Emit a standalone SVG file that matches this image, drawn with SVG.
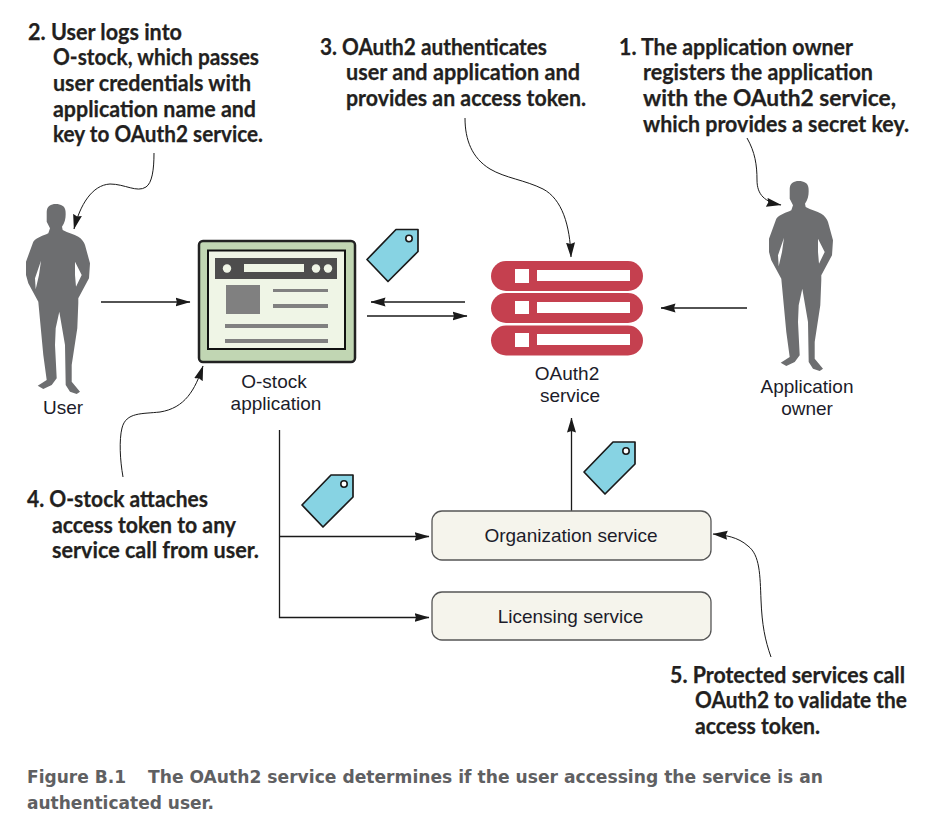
<svg xmlns="http://www.w3.org/2000/svg" xmlns:xlink="http://www.w3.org/1999/xlink" width="944" height="826" viewBox="0 0 944 826">
<style>
.note{font:700 22px Lato,"Noto Sans",sans-serif;fill:#231f20;stroke:#231f20;stroke-width:.25}
.lab{font:19px "Liberation Sans",Arial,sans-serif;fill:#1c1c2a;text-anchor:middle}
.cap{font:700 18.500px "DejaVu Sans","Liberation Sans",sans-serif;fill:#5f6062}
.con{fill:none;stroke:#1a1a1a;stroke-width:1.3}
.cur{fill:none;stroke:#1a1a1a;stroke-width:1}
.tag{fill:#87d3e3;stroke:#1a1a1a;stroke-width:1.7;stroke-linejoin:round}
.hole{fill:#fff;stroke:#1a1a1a;stroke-width:1.6}
.svc{fill:#f5f4ec;stroke:#555;stroke-width:1.3}
.srv{fill:#c5404f}
.wht{fill:#fff}
.g{fill:#808080}
.lt{fill:#eff5e6}
</style>
<defs>
<marker id="ah" viewBox="0 0 15 10" refX="14.500" refY="5" markerWidth="15" markerHeight="10" markerUnits="userSpaceOnUse" orient="auto"><path d="M0,0.500L15,5L0,9.500L1.500,5Z" fill="#1a1a1a"/></marker>
<path id="person" fill="#6d6e70" fill-rule="evenodd" d="M55.700,204C61,204 65,206 65.500,211C66,216 65.500,222 62,226.700L62.700,230C68,233 74,234 78.300,236.700C82,239 84,242 85,245L90,263.300L89,278.300L78.300,298.300V303.300L77.300,328.300L71.700,365V381.700L80,391.700L76.700,394L70,391.700L65.700,385L65,345L59.300,311.700L55.700,328.300L55,345L56.700,378.300L51.700,385L43.300,389L37.700,385.700L46.700,380L43.300,355L38.300,301.700L28.300,283.300L26,275V261.700L33.300,241.700C37,237 43,236 48.300,233.300L50,228.300L46.700,221.700V211.700C47,206 51,204 55.700,204ZM41,260.700L35,278.300L35.700,289.300L39,275ZM75,261.700L81.700,275L76,286.700L75,275Z"/>
<g id="tg"><path class="tag" d="M0,0L29,-30L51,-30L51,-8L21,22Z"/><circle class="hole" cx="42" cy="-21" r="3.200"/></g>
</defs>
<g id="connectors">
<path class="con" d="M101,302H190" marker-end="url(#ah)"/>
<path class="con" d="M465,302H371" marker-end="url(#ah)"/>
<path class="con" d="M367,316H467" marker-end="url(#ah)"/>
<path class="con" d="M747,308H661" marker-end="url(#ah)"/>
<path class="con" d="M571.500,511V418" marker-end="url(#ah)"/>
<path class="con" d="M279.500,430V617.500H429" marker-end="url(#ah)"/>
<path class="con" d="M279.500,536.500H429" marker-end="url(#ah)"/>
<path class="cur" d="M154,153C154,170 152,183 146,187C137,193 125,184 110,184C92,185 80,205 74,229" marker-end="url(#ah)"/>
<path class="cur" d="M465,118C465,140 472,158 490,169C505,178 525,180 543,189C562,199 570,225 571,257" marker-end="url(#ah)"/>
<path class="cur" d="M747,138C755,152 757,165 757,180C757,195 765,202 781,205" marker-end="url(#ah)"/>
<path class="cur" d="M123,477C120,460 119,440 122,428C126,412 142,414 160,412C185,408 195,390 203,366" marker-end="url(#ah)"/>
<path class="cur" d="M771,657C765,640 762,625 761,600C760,575 760,555 748,546C738,537 725,535 713,534" marker-end="url(#ah)"/>
</g>
<g id="user"><use href="#person"/><text class="lab" x="63" y="414">User</text></g>
<g id="owner"><use href="#person" transform="translate(743,-23)"/><text class="lab" x="807" y="393">Application</text><text class="lab" x="807" y="415">owner</text></g>
<g id="ostock">
<rect x="199" y="241" width="156" height="121" rx="4" fill="#c1d6b3" stroke="#222" stroke-width="2.500"/>
<rect x="208" y="250.500" width="137" height="98.500" fill="#eff5e6" stroke="#111" stroke-width="2"/>
<rect x="215" y="258" width="122" height="21" fill="#4d4d4d"/>
<circle class="lt" cx="227" cy="268.500" r="4.200"/><circle class="lt" cx="316" cy="268.500" r="4.200"/><circle class="lt" cx="328" cy="268.500" r="4.200"/>
<rect class="lt" x="244" y="264" width="60" height="8"/>
<rect class="g" x="226" y="285" width="34" height="29"/>
<rect class="g" x="273" y="289" width="55" height="3"/>
<rect class="g" x="273" y="304" width="55" height="4"/>
<rect class="g" x="225" y="324" width="103" height="4"/>
<rect class="g" x="225" y="339" width="103" height="4"/>
<text class="lab" x="274" y="388">O-stock</text><text class="lab" x="276" y="410">application</text>
</g>
<g id="oauth2">
<rect class="srv" x="491" y="261" width="152" height="30" rx="15"/>
<rect class="srv" x="491" y="293" width="152" height="30" rx="15"/>
<rect class="srv" x="491" y="325.500" width="152" height="30" rx="15"/>
<rect class="wht" x="515" y="269" width="14" height="14"/><rect class="wht" x="537" y="270" width="93" height="11"/>
<rect class="wht" x="515" y="301" width="14" height="13"/><rect class="wht" x="537" y="302" width="93" height="11"/>
<rect class="wht" x="515" y="333" width="14" height="14"/><rect class="wht" x="537" y="334" width="93" height="11"/>
<text class="lab" x="567" y="380">OAuth2</text><text class="lab" x="570" y="402">service</text>
</g>
<g id="token1"><use href="#tg" x="367" y="259.500"/></g>
<g id="token2"><use href="#tg" x="302" y="505"/></g>
<g id="token3"><use href="#tg" x="584" y="472"/></g>
<g id="organization"><rect class="svc" x="432" y="511" width="279" height="49" rx="10"/><text class="lab" x="571" y="542">Organization service</text></g>
<g id="licensing"><rect class="svc" x="432" y="592" width="279" height="48" rx="10"/><text class="lab" x="570.500" y="623">Licensing service</text></g>
<g id="note2">
<text class="note" x="28" y="40" textLength="154" lengthAdjust="spacingAndGlyphs">2. User logs into</text>
<text class="note" x="53" y="65" textLength="206" lengthAdjust="spacingAndGlyphs">O-stock, which passes</text>
<text class="note" x="53" y="91" textLength="198" lengthAdjust="spacingAndGlyphs">user credentials with</text>
<text class="note" x="53" y="117" textLength="203" lengthAdjust="spacingAndGlyphs">application name and</text>
<text class="note" x="53" y="142" textLength="210" lengthAdjust="spacingAndGlyphs">key to OAuth2 service.</text>
</g>
<g id="note3">
<text class="note" x="320" y="55" textLength="227" lengthAdjust="spacingAndGlyphs">3. OAuth2 authenticates</text>
<text class="note" x="346" y="80" textLength="234" lengthAdjust="spacingAndGlyphs">user and application and</text>
<text class="note" x="346" y="106" textLength="240" lengthAdjust="spacingAndGlyphs">provides an access token.</text>
</g>
<g id="note1">
<text class="note" x="619" y="55" textLength="234" lengthAdjust="spacingAndGlyphs">1. The application owner</text>
<text class="note" x="643" y="80" textLength="230" lengthAdjust="spacingAndGlyphs">registers the application</text>
<text class="note" x="643" y="106" textLength="253" lengthAdjust="spacingAndGlyphs">with the OAuth2 service,</text>
<text class="note" x="643" y="132" textLength="266" lengthAdjust="spacingAndGlyphs">which provides a secret key.</text>
</g>
<g id="note4">
<text class="note" x="27" y="507" textLength="181" lengthAdjust="spacingAndGlyphs">4. O-stock attaches</text>
<text class="note" x="52" y="533" textLength="184" lengthAdjust="spacingAndGlyphs">access token to any</text>
<text class="note" x="52" y="558" textLength="207" lengthAdjust="spacingAndGlyphs">service call from user.</text>
</g>
<g id="note5">
<text class="note" x="670" y="683" textLength="235" lengthAdjust="spacingAndGlyphs">5. Protected services call</text>
<text class="note" x="695" y="708" textLength="212" lengthAdjust="spacingAndGlyphs">OAuth2 to validate the</text>
<text class="note" x="695" y="734" textLength="125" lengthAdjust="spacingAndGlyphs">access token.</text>
</g>
<g id="caption">
<text class="cap" x="27" y="783" textLength="99" lengthAdjust="spacingAndGlyphs">Figure B.1</text>
<text class="cap" x="148" y="783" textLength="675" lengthAdjust="spacingAndGlyphs">The OAuth2 service determines if the user accessing the service is an</text>
<text class="cap" x="27" y="809" textLength="187" lengthAdjust="spacingAndGlyphs">authenticated user.</text>
</g>
</svg>
